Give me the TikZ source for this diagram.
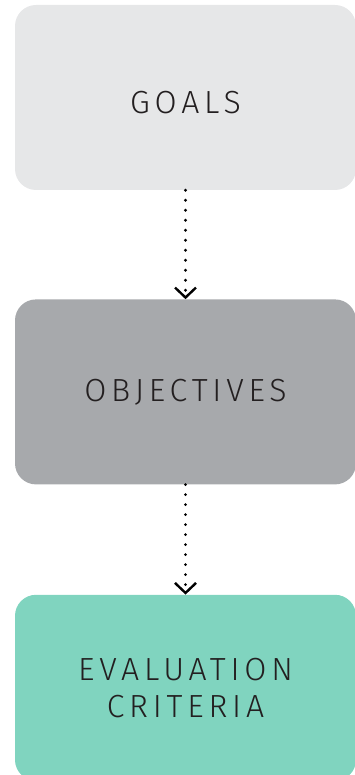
\documentclass[tikz,border=0pt]{standalone}
\usepackage{fontspec}
\newfontfamily\boxfont{Fira Sans Light}[LetterSpace=15]
\usetikzlibrary{arrows.meta,positioning}
\definecolor{ink}{HTML}{231F20}
\definecolor{goalgray}{HTML}{E6E7E8}
\definecolor{objgray}{HTML}{A7A9AC}
\definecolor{mint}{HTML}{80D4BF}
\tikzset{
  card/.style={rounded corners=21pt, minimum width=341pt, minimum height=185pt,
    inner sep=0pt, align=center, text=ink,
    font=\boxfont\fontsize{32}{37}\selectfont},
  flow/.style={draw=black, line width=3.2pt, line cap=round,
    dash pattern=on 0pt off 10pt,
    -{Straight Barb[length=10pt,width=21pt,line width=2.4pt]}}
}

\begin{document}
\begin{tikzpicture}[x=1pt,y=1pt]
  \useasboundingbox (0,0) rectangle (355,-775);
  \clip (0,0) rectangle (355,-775);
  % three stages, top to bottom
  \node[card, fill=goalgray, text height=33pt, text depth=0pt] (goals) at (185.5,-97.5) {GOALS};
  \node[card, fill=objgray, below=109pt of goals] (objectives) {OBJECTIVES};
  \node[card, fill=mint, below=110pt of objectives, minimum height=186pt] (criteria) {EVALUATION\\CRITERIA};
  \draw[flow] (goals) -- (objectives);
  \draw[flow] (objectives) -- (criteria);
\end{tikzpicture}
\end{document}
